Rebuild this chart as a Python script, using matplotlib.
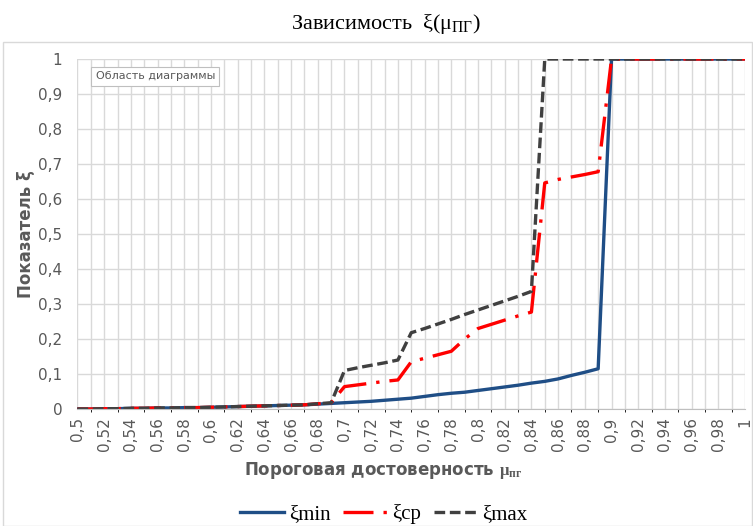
#!/usr/bin/env python3

import numpy as np
import matplotlib
matplotlib.use("Agg")
import matplotlib.pyplot as plt
from matplotlib.ticker import FuncFormatter, MultipleLocator

# категории по оси X: пороговая достоверность
mu = np.round(np.arange(0.50, 1.0001, 0.01), 2)

xi_min = [0.000, 0.000, 0.001, 0.001, 0.002, 0.002, 0.003, 0.003, 0.004, 0.004,
          0.005, 0.006, 0.007, 0.008, 0.009, 0.010, 0.011, 0.012, 0.014, 0.016,
          0.018, 0.020, 0.022, 0.025, 0.028, 0.031, 0.036, 0.041, 0.045, 0.048,
          0.053, 0.058, 0.063, 0.068, 0.074, 0.079, 0.086, 0.096, 0.105, 0.115,
          1.0, 1.0, 1.0, 1.0, 1.0, 1.0, 1.0, 1.0, 1.0, 1.0, 1.0]

xi_cp = [0.000, 0.000, 0.001, 0.001, 0.002, 0.002, 0.003, 0.003, 0.004, 0.004,
         0.005, 0.006, 0.007, 0.008, 0.009, 0.010, 0.011, 0.012, 0.015, 0.018,
         0.064, 0.069, 0.074, 0.079, 0.083, 0.135, 0.145, 0.155, 0.165, 0.200,
         0.230, 0.242, 0.254, 0.266, 0.277, 0.646, 0.656, 0.663, 0.670, 0.678,
         1.0, 1.0, 1.0, 1.0, 1.0, 1.0, 1.0, 1.0, 1.0, 1.0, 1.0]

xi_max = [0.000, 0.000, 0.001, 0.001, 0.002, 0.002, 0.003, 0.003, 0.004, 0.004,
          0.005, 0.006, 0.007, 0.008, 0.009, 0.010, 0.011, 0.012, 0.015, 0.018,
          0.110, 0.118, 0.125, 0.132, 0.140, 0.218, 0.230, 0.243, 0.256, 0.270,
          0.283, 0.296, 0.309, 0.322, 0.336, 1.0, 1.0, 1.0, 1.0, 1.0,
          1.0, 1.0, 1.0, 1.0, 1.0, 1.0, 1.0, 1.0, 1.0, 1.0, 1.0]

plt.rcParams["mathtext.fontset"] = "custom"
plt.rcParams["mathtext.rm"] = "Liberation Serif"
plt.rcParams["mathtext.it"] = "Liberation Serif:italic"
plt.rcParams["mathtext.bf"] = "Liberation Serif:bold"

gray = "#595959"

fig = plt.figure(figsize=(7.53, 5.26), dpi=100)
ax = fig.add_axes([0.1029, 0.2224, 0.8865, 0.6654])

# рамка области диаграммы
fig.patches.append(plt.Rectangle((0.004, 0.0), 0.995, 0.92, transform=fig.transFigure,
                                 fill=False, edgecolor="#D9D9D9", linewidth=1))

ax.plot(mu, xi_min, color="#1F4E86", lw=2.4, label="ξmin", solid_joinstyle="round")
ax.plot(mu, xi_cp, color="#FF0000", lw=2.4, dashes=(9, 3, 1, 3), label="ξcp")
ax.plot(mu, xi_max, color="#404040", lw=2.4, dashes=(3.2, 1.4), label="ξmax")

ax.set_xlim(0.5, 1.0)
ax.set_ylim(0, 1)
ax.xaxis.set_major_locator(MultipleLocator(0.02))
ax.xaxis.set_minor_locator(MultipleLocator(0.01))
ax.yaxis.set_major_locator(MultipleLocator(0.1))

def comma(v, pos):
    s = f"{v:.2f}".rstrip("0").rstrip(".")
    return s.replace(".", ",")

ax.xaxis.set_major_formatter(FuncFormatter(comma))
ax.yaxis.set_major_formatter(FuncFormatter(comma))
plt.setp(ax.get_xticklabels(), rotation=90)
ax.tick_params(axis="both", length=0, colors=gray, labelsize=11)
ax.tick_params(axis="y", pad=11)
ax.tick_params(axis="x", pad=6)

ax.grid(which="both", axis="x", color="#D9D9D9", lw=1)
ax.grid(which="major", axis="y", color="#D9D9D9", lw=1)
ax.set_axisbelow(True)
for side in ["top", "right", "left"]:
    ax.spines[side].set_visible(False)
ax.spines["bottom"].set_color("#BFBFBF")

ax.set_ylabel("Показатель ξ", fontsize=12, fontweight="bold", color=gray, labelpad=2)
ax.set_xlabel(r"Пороговая достоверность $\mathbf{μ_{пг}}$", fontsize=12,
              fontweight="bold", color=gray)
ax.xaxis.set_label_coords(0.458, -0.145)

fig.text(0.512, 0.955, r"Зависимость  $\mathrm{ξ(μ_{ПГ})}$", ha="center", va="center",
         fontsize=16, family="Liberation Serif")

ax.text(0.027, 0.965, "Область диаграммы", transform=ax.transAxes, fontsize=8,
        color=gray, va="top", ha="left",
        bbox=dict(boxstyle="square,pad=0.4", fc="white", ec="#BFBFBF", lw=0.8))

fig.legend(loc="lower center", bbox_to_anchor=(0.51, -0.032), ncol=3, frameon=False,
           prop={"family": "Liberation Serif", "size": 15}, handlelength=2.1,
           columnspacing=0.6, handletextpad=0.25)

fig.savefig("out.png", dpi=100)
